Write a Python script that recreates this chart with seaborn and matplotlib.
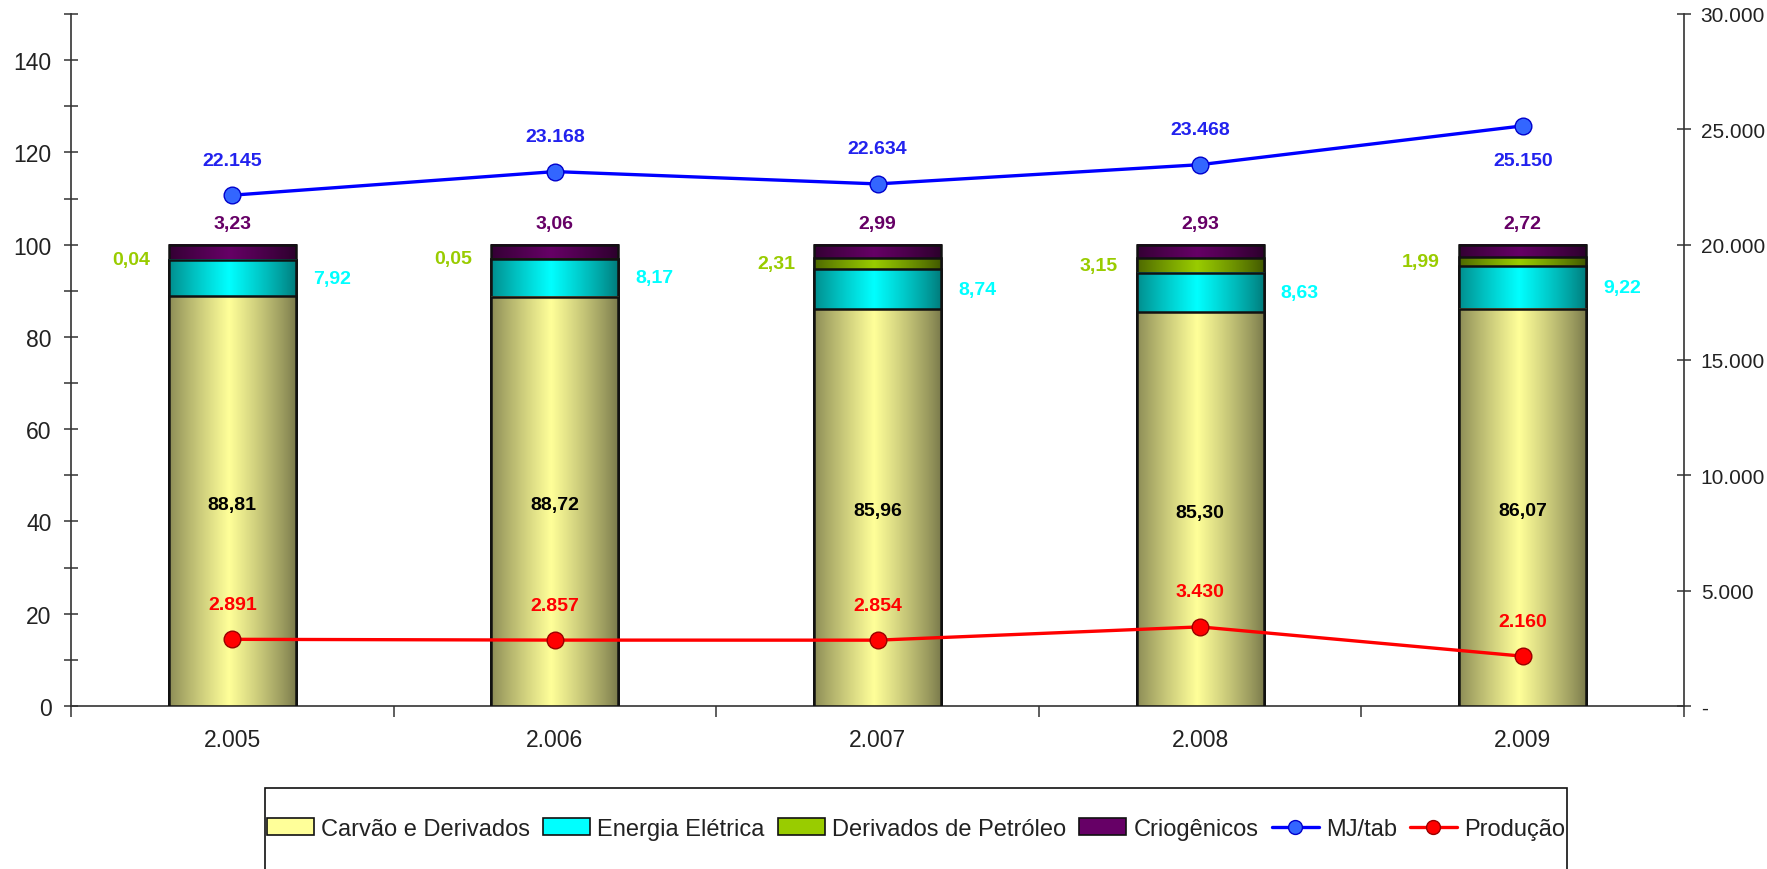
import numpy as np
import matplotlib
matplotlib.use("Agg")
import matplotlib.pyplot as plt
import seaborn as sns
from matplotlib.colors import to_rgb
from matplotlib.patches import Rectangle, Patch
from matplotlib.lines import Line2D
from matplotlib.ticker import MultipleLocator, FuncFormatter

# ---- data -------------------------------------------------------------
anos = ["2.005", "2.006", "2.007", "2.008", "2.009"]
carvao = [88.81, 88.72, 85.96, 85.30, 86.07]
energia = [7.92, 8.17, 8.74, 8.63, 9.22]
petroleo = [0.04, 0.05, 2.31, 3.15, 1.99]
criogenicos = [3.23, 3.06, 2.99, 2.93, 2.72]
mj_tab = [22145, 23168, 22634, 23468, 25150]
producao = [2891, 2857, 2854, 3430, 2160]

series_names = ["Carvão e Derivados", "Energia Elétrica",
                "Derivados de Petróleo", "Criogênicos"]
series_vals = [carvao, energia, petroleo, criogenicos]
# (centre colour, edge colour) of the horizontal gradient fill
series_cols = [("#FFFF99", "#77774A"), ("#00FFFF", "#007878"),
               ("#99CC00", "#3F5500"), ("#660066", "#2A002A")]
label_cols = ["#000000", "#00FFFF", "#99CC00", "#660066"]

# ---- style ------------------------------------------------------------
sns.set_theme(style="white")
plt.rcParams["font.family"] = ["Liberation Sans", "DejaVu Sans"]
TXT = "#222222"

W, H = 1767, 870
fig = plt.figure(figsize=(W / 100, H / 100), dpi=100)
fig.patch.set_facecolor("white")
ax = fig.add_axes([71 / W, 163 / H, (1684 - 71) / W, 692 / H])

bar_w = 0.394
n = len(anos)
x_pos = np.arange(n)
cum = np.cumsum(np.array(series_vals), axis=0)


def gradient(center, edge, npts=256):
    c = np.array(to_rgb(center))
    e = np.array(to_rgb(edge))
    t = np.linspace(0, 1, npts)
    w = 1 - np.abs(t - 0.47) / 0.53
    w = np.clip(w, 0, 1) ** 0.85
    return (e[None, :] + (c - e)[None, :] * w[:, None])[None, :, :]


# stacked bars: draw cumulative totals from the top layer down
for k, i in enumerate(reversed(range(len(series_vals)))):
    z = 2 + k
    before = len(ax.patches)
    sns.barplot(x=anos, y=cum[i], color=series_cols[i][0], saturation=1,
                width=bar_w, edgecolor="none", linewidth=0, ax=ax, zorder=z)
    grad = gradient(*series_cols[i])
    for p in ax.patches[before:]:
        x0, y0 = p.get_x(), p.get_y()
        w, h = p.get_width(), p.get_height()
        ax.imshow(grad, extent=[x0, x0 + w, y0, y0 + h], aspect="auto",
                  interpolation="bilinear", zorder=z + 0.3)
        ax.add_patch(Rectangle((x0, y0), w, h, fill=False,
                               edgecolor="#111111", linewidth=1.8,
                               zorder=z + 0.6))

ax.set_xlim(-0.5, n - 0.5)
ax.set_ylim(0, 150)

# ---- segment labels ---------------------------------------------------
def fmt_dec(v):
    return f"{v:.2f}".replace(".", ",")


def fmt_thou(v):
    return f"{v:,.0f}".replace(",", ".")


lab_kw = dict(textcoords="offset pixels", ha="center", va="center",
              fontsize=14, fontweight="bold")
for j in range(n):
    # Carvão: centre of its segment
    ax.annotate(fmt_dec(carvao[j]), xy=(j, carvao[j] / 2), xytext=(0, -3),
                color=label_cols[0], zorder=20, **lab_kw)
    # Energia Elétrica: right of the bar
    mid = cum[0][j] + energia[j] / 2
    ax.annotate(fmt_dec(energia[j]), xy=(j + bar_w / 2, mid), xytext=(36, 0),
                color=label_cols[1], zorder=20, **lab_kw)
    # Derivados de Petróleo: left of the bar
    mid = cum[1][j] + petroleo[j] / 2
    ax.annotate(fmt_dec(petroleo[j]), xy=(j - bar_w / 2, mid), xytext=(-38, 0),
                color=label_cols[2], zorder=20, **lab_kw)
    # Criogênicos: above the bar
    ax.annotate(fmt_dec(criogenicos[j]), xy=(j, cum[3][j]), xytext=(0, 21),
                color=label_cols[3], zorder=20, **lab_kw)

# ---- axes styling (left) ---------------------------------------------
for s in ["top", "right"]:
    ax.spines[s].set_visible(False)
for s in ["left", "bottom"]:
    ax.spines[s].set_color("#333333")
    ax.spines[s].set_linewidth(1.2)

ax.yaxis.set_major_locator(MultipleLocator(20))
ax.yaxis.set_minor_locator(MultipleLocator(10))
ax.tick_params(axis="y", which="both", direction="inout", length=10,
               width=1.1, color="#333333", left=True)
ax.tick_params(axis="y", which="major", labelsize=16.5, labelcolor=TXT, pad=9)

ax.set_xticks(np.arange(n + 1) - 0.5)
ax.set_xticklabels([])
ax.set_xticks(x_pos, minor=True)
ax.set_xticklabels(anos, minor=True)
ax.tick_params(axis="x", which="major", direction="out", length=8,
               width=1.1, color="#333333", bottom=True)
ax.tick_params(axis="x", which="minor", length=0, pad=16, labelsize=16.5,
               labelcolor=TXT, bottom=True)
ax.set_xlabel("")
ax.set_ylabel("")
ax.grid(False)

# ---- right axis with the two lines -----------------------------------
ax2 = ax.twinx()
ax2.set_ylim(0, 30000)
sns.lineplot(x=x_pos, y=mj_tab, ax=ax2, color="#0000FF", linewidth=2.4,
             marker="o", markersize=12, markerfacecolor="#3366FF",
             markeredgecolor="#0000CC", markeredgewidth=1, sort=False,
             legend=False)
sns.lineplot(x=x_pos, y=producao, ax=ax2, color="#FF0000", linewidth=2.4,
             marker="o", markersize=12, markerfacecolor="#FF0000",
             markeredgecolor="#990000", markeredgewidth=1, sort=False,
             legend=False)
ax2.set_xlim(-0.5, n - 0.5)

line_kw = dict(textcoords="offset pixels", ha="center", va="center",
               fontsize=14, fontweight="bold")
for j in range(n):
    dy = 35 if j < n - 1 else -35
    ax2.annotate(fmt_thou(mj_tab[j]), xy=(j, mj_tab[j]), xytext=(0, dy),
                 color="#2222EE", **line_kw)
    ax2.annotate(fmt_thou(producao[j]), xy=(j, producao[j]), xytext=(0, 35),
                 color="#FF0000", **line_kw)

for s in ["top", "left", "bottom"]:
    ax2.spines[s].set_visible(False)
ax2.spines["right"].set_color("#333333")
ax2.spines["right"].set_linewidth(1.2)
ax2.yaxis.set_major_locator(MultipleLocator(5000))
ax2.yaxis.set_major_formatter(
    FuncFormatter(lambda v, _: "-" if v == 0 else fmt_thou(v)))
ax2.tick_params(axis="y", which="major", direction="inout", length=10,
                width=1.1, color="#333333", right=True, labelsize=15,
                labelcolor=TXT, pad=7)
ax2.set_xlabel("")
ax2.set_ylabel("")
ax2.grid(False)

# ---- legend -----------------------------------------------------------
handles = [Patch(facecolor=series_cols[i][0], edgecolor="#111111",
                 linewidth=1.2) for i in range(4)]
handles += [
    Line2D([], [], color="#0000FF", linewidth=2.4, marker="o", markersize=10,
           markerfacecolor="#3366FF", markeredgecolor="#0000CC"),
    Line2D([], [], color="#FF0000", linewidth=2.4, marker="o", markersize=10,
           markerfacecolor="#FF0000", markeredgecolor="#990000"),
]
labels = series_names + ["MJ/tab", "Produção"]
leg = fig.legend(handles, labels, loc="center", ncol=6, frameon=False,
                 bbox_to_anchor=(916 / W, 1 - 830 / H), fontsize=17,
                 handlelength=2.0, handleheight=0.75, handletextpad=0.3,
                 columnspacing=0.55, borderaxespad=0)
for t in leg.get_texts():
    t.set_color(TXT)
fig.patches.append(Rectangle((265 / W, -0.02), (1567 - 265) / W,
                             (870 - 789) / H + 0.02,
                             transform=fig.transFigure, fill=False,
                             edgecolor="#111111", linewidth=1.2))

fig.savefig("out.png", dpi=100, facecolor="white")
